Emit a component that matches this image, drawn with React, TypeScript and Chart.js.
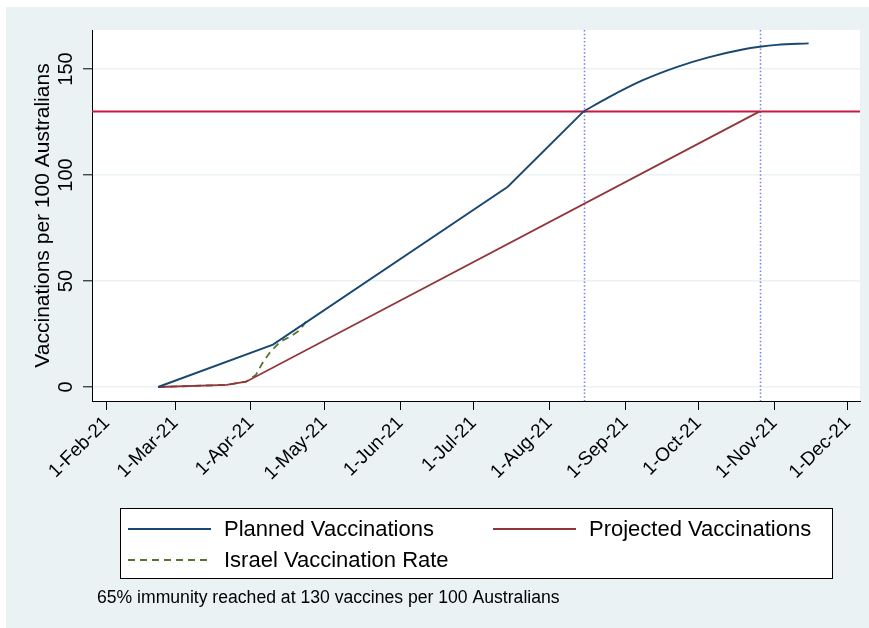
import React, { useEffect, useRef } from 'react';
import { Chart, registerables } from 'chart.js';

Chart.register(...registerables);

// ---------- data ----------
const baseDate = '2021-02-01';
const xMinDate = '2021-01-26';
const xMaxDate = '2021-12-06';
const yMin = -6.6;
const yMax = 168.4;

const tickDates = [
  '2021-02-01', '2021-03-01', '2021-04-01', '2021-05-01', '2021-06-01', '2021-07-01',
  '2021-08-01', '2021-09-01', '2021-10-01', '2021-11-01', '2021-12-01',
];
const tickLabels = [
  '1-Feb-21', '1-Mar-21', '1-Apr-21', '1-May-21', '1-Jun-21', '1-Jul-21',
  '1-Aug-21', '1-Sep-21', '1-Oct-21', '1-Nov-21', '1-Dec-21',
];
const yTicks = [0, 50, 100, 150];

const plannedDates = [
  '2021-02-22', '2021-04-10', '2021-07-15', '2021-08-15', '2021-08-25', '2021-09-08',
  '2021-09-22', '2021-10-05', '2021-10-19', '2021-10-26', '2021-11-02', '2021-11-15',
];
const plannedValues = [0, 20, 94.5, 130, 136.5, 144.6, 150.9, 155.5, 159.2, 160.5, 161.4, 162.1];
const plannedCurveStart = '2021-08-15';

const projectedDates = ['2021-02-22', '2021-03-22', '2021-03-30', '2021-10-26'];
const projectedValues = [0, 1, 2.5, 130];

const israelDates = [
  '2021-02-22', '2021-03-22', '2021-03-30', '2021-04-03', '2021-04-06', '2021-04-09',
  '2021-04-13', '2021-04-17', '2021-04-21', '2021-04-24',
];
const israelValues = [0, 1, 2.5, 5.7, 11.9, 16.7, 21.4, 23.7, 26.9, 31.6];

const thresholdValue = 130;
const markerDates = ['2021-08-15', '2021-10-26'];

const seriesNames = ['Planned Vaccinations', 'Projected Vaccinations', 'Israel Vaccination Rate'];
const note = '65% immunity reached at 130 vaccines per 100 Australians';
const yTitle = 'Vaccinations per 100 Australians';

// ---------- helpers ----------
const DAY = 86400000;
const toDay = (s: string) => (Date.parse(s + 'T00:00:00Z') - Date.parse(baseDate + 'T00:00:00Z')) / DAY;
const toPoints = (dates: string[], vals: number[]) => dates.map((d, i) => ({ x: toDay(d), y: vals[i] }));

const FONT = '"Liberation Sans", Arial, Helvetica, sans-serif';
const BLUE = '#1a476f';
const MAROON = '#90353b';
const GREEN = '#55752f';
const BG = '#eaf2f3';

const bgPlugin = {
  id: 'stataBg',
  beforeDraw(chart: any) {
    const { ctx, width, height, chartArea } = chart;
    ctx.save();
    ctx.fillStyle = '#ffffff';
    ctx.fillRect(0, 0, width, height);
    ctx.fillStyle = BG;
    ctx.fillRect(6, 7, width - 6, height - 7);
    ctx.fillStyle = '#ffffff';
    ctx.fillRect(chartArea.left, chartArea.top, chartArea.right - chartArea.left, chartArea.bottom - chartArea.top);
    ctx.restore();
  },
};

const refLinesPlugin = {
  id: 'refLines',
  beforeDatasetsDraw(chart: any) {
    const { ctx, chartArea, scales } = chart;
    ctx.save();
    // vertical dotted markers
    ctx.strokeStyle = '#7878ff';
    ctx.lineWidth = 1.5;
    ctx.setLineDash([1.5, 2.2]);
    markerDates.forEach((d) => {
      const x = Math.round(scales.x.getPixelForValue(toDay(d))) + 0.5;
      ctx.beginPath();
      ctx.moveTo(x, chartArea.top);
      ctx.lineTo(x, chartArea.bottom);
      ctx.stroke();
    });
    ctx.setLineDash([]);
    // threshold line
    const y = scales.y.getPixelForValue(thresholdValue);
    ctx.strokeStyle = '#c8183e';
    ctx.lineWidth = 2;
    ctx.beginPath();
    ctx.moveTo(chartArea.left, y);
    ctx.lineTo(chartArea.right, y);
    ctx.stroke();
    ctx.restore();
  },
};

const legendItems = [
  { ds: 0, x: 128, y: 529 },
  { ds: 2, x: 493, y: 529 },
  { ds: 3, x: 128, y: 560 },
];

const legendPlugin = {
  id: 'boxLegend',
  afterDraw(chart: any) {
    const { ctx } = chart;
    const ds = chart.data.datasets;
    ctx.save();
    ctx.fillStyle = '#ffffff';
    ctx.fillRect(120, 508, 712, 70);
    ctx.strokeStyle = '#000000';
    ctx.lineWidth = 1;
    ctx.strokeRect(120.5, 508.5, 712, 70);
    ctx.font = `22px ${FONT}`;
    ctx.textBaseline = 'middle';
    ctx.textAlign = 'left';
    legendItems.forEach((it) => {
      const d = ds[it.ds];
      ctx.strokeStyle = d.borderColor;
      ctx.lineWidth = 2;
      ctx.setLineDash(d.borderDash || []);
      ctx.beginPath();
      ctx.moveTo(it.x, it.y);
      ctx.lineTo(it.x + 83, it.y);
      ctx.stroke();
      ctx.setLineDash([]);
      ctx.fillStyle = '#000000';
      ctx.fillText(d.label, it.x + 96, it.y + 1);
    });
    ctx.font = `17.6px ${FONT}`;
    ctx.fillText(note, 97, 598);
    ctx.restore();
  },
};

export default function App() {
  const ref = useRef<HTMLCanvasElement | null>(null);

  useEffect(() => {
    if (!ref.current) return;
    const planned = toPoints(plannedDates, plannedValues);
    const k = plannedDates.indexOf(plannedCurveStart);
    const chart = new Chart(ref.current, {
      type: 'line',
      data: {
        datasets: [
          {
            label: seriesNames[0],
            data: planned.slice(0, k + 1),
            borderColor: BLUE,
            borderWidth: 1.9,
            pointRadius: 0,
            tension: 0,
          },
          {
            label: seriesNames[0],
            data: planned.slice(k),
            borderColor: BLUE,
            borderWidth: 1.9,
            pointRadius: 0,
            cubicInterpolationMode: 'monotone',
          },
          {
            label: seriesNames[1],
            data: toPoints(projectedDates, projectedValues),
            borderColor: MAROON,
            borderWidth: 1.8,
            pointRadius: 0,
            tension: 0,
          },
          {
            label: seriesNames[2],
            data: toPoints(israelDates, israelValues),
            borderColor: GREEN,
            borderWidth: 1.8,
            borderDash: [7, 5],
            pointRadius: 0,
            tension: 0,
          },
        ],
      },
      options: {
        animation: false,
        responsive: false,
        maintainAspectRatio: false,
        parsing: false,
        layout: { padding: { left: 10, top: 30, right: 9, bottom: 137 } },
        plugins: { legend: { display: false }, tooltip: { enabled: false } },
        scales: {
          x: {
            type: 'linear',
            min: toDay(xMinDate),
            max: toDay(xMaxDate),
            afterBuildTicks: (s: any) => {
              s.ticks = tickDates.map((d) => ({ value: toDay(d) }));
            },
            afterFit: (s: any) => {
              s.height = 90;
            },
            ticks: {
              autoSkip: false,
              minRotation: 45,
              maxRotation: 45,
              padding: 2,
              color: '#000000',
              font: { family: FONT, size: 19 },
              callback: (v: any) => {
                const idx = tickDates.findIndex((d) => toDay(d) === v);
                return idx >= 0 ? tickLabels[idx] : '';
              },
            },
            grid: {
              drawOnChartArea: false,
              drawTicks: true,
              tickLength: 9,
              tickColor: '#000000',
              tickWidth: 1,
            },
            border: { display: true, color: '#000000', width: 1 },
          },
          y: {
            type: 'linear',
            min: yMin,
            max: yMax,
            afterBuildTicks: (s: any) => {
              s.ticks = yTicks.map((v) => ({ value: v }));
            },
            afterFit: (s: any) => {
              s.width = 82;
            },
            ticks: {
              minRotation: 90,
              maxRotation: 90,
              crossAlign: 'center',
              padding: 0,
              color: '#000000',
              font: { family: FONT, size: 20 },
              callback: (v: any) => String(v),
            },
            grid: {
              color: BG,
              lineWidth: 1.6,
              drawTicks: true,
              tickLength: 9,
              tickColor: '#000000',
              tickWidth: 1,
            },
            border: { display: true, color: '#000000', width: 1 },
            title: {
              display: true,
              text: yTitle,
              color: '#000000',
              font: { family: FONT, size: 21 },
              padding: { top: 21, bottom: 0 },
            },
          },
        },
      },
      plugins: [bgPlugin, refLinesPlugin, legendPlugin],
    } as any);
    return () => chart.destroy();
  }, []);

  return (
    <div style={{ position: 'absolute', left: 0, top: 0, width: 869, height: 628 }}>
      <canvas ref={ref} width={869} height={628} style={{ width: 869, height: 628, display: 'block' }} />
    </div>
  );
}
